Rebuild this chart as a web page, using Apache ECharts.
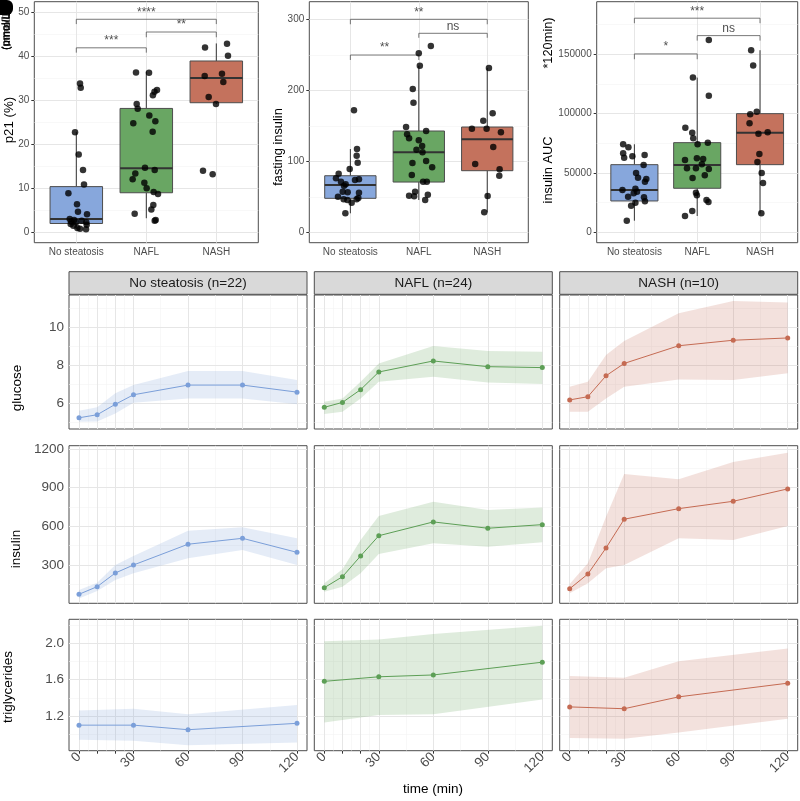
<!DOCTYPE html>
<html>
<head>
<meta charset="utf-8">
<script src="https://cdn.jsdelivr.net/npm/echarts@6/dist/echarts.min.js"></script>
<style>
  html, body { margin: 0; background: #fff; }
  #chart { width: 800px; height: 801px; }
</style>
</head>
<body>
<div id="chart"></div>
<script>
// ---- data ----
const groups = ['No steatosis', 'NAFL', 'NASH'];
const groupCounts = [22, 24, 10];

// box stats: [x, lower whisker, Q1, median, Q3, upper whisker]
const p21Boxes = [[1, 0.7, 2.0, 3.0, 10.4, 22.8], [2, 3.2, 9.0, 14.6, 28.2, 36.6], [3, 29.2, 29.5, 35.1, 39.0, 43.0]];
const fastingBoxes = [[1, 26.8, 47.9, 66.6, 79.7, 117.3], [2, 45.5, 70.8, 112.7, 142.7, 234.7], [3, 28.2, 86.8, 131, 148.3, 231.4]];
const aucBoxes = [[1, 9780, 26390, 35670, 57000, 74200], [2, 13740, 37100, 56750, 75550, 130360], [3, 16020, 57000, 83980, 100000, 153470]];

// jittered points [x, value]
const p21Points = [
  [1.053,33.9],[1.063,32.9],[0.982,22.8],[1.034,17.7],[1.096,14.2],[1.11,10.9],[0.887,8.9],[1.01,6.4],[1.024,4.7],[1.153,4.1],
  [0.906,3.0],[0.93,2.4],[0.968,2.8],[0.996,2.3],[1.077,2.6],[1.143,2.3],[0.92,1.9],[0.958,1.5],[1.015,1.0],[1.053,0.8],[1.139,0.7],[1.148,1.7],
  [1.853,36.4],[2.039,36.3],[1.863,29.2],[1.877,28.1],[2.153,32.4],[2.117,32.0],[2.094,31.2],[2.043,26.6],[1.814,24.8],[2.129,25.3],
  [2.091,22.9],[1.981,14.7],[2.12,14.2],[1.843,13.4],[1.805,12.1],[1.972,11.3],[2.005,10.0],[2.105,9.2],[2.167,8.7],[2.1,6.2],
  [2.072,5.2],[1.834,4.2],[2.134,2.8],[2.12,2.6],
  [2.839,42.1],[3.153,42.9],[3.167,40.2],[2.834,35.6],[3.081,36.1],[3.1,34.2],[2.891,30.8],[2.996,29.2],[2.81,14.0],[2.948,13.2]
];
const fastingPoints = [
  [1.053,171.8],[1.097,117.3],[1.092,107.9],[1.107,98.1],[0.99,89.2],[0.829,82.6],[0.79,76.1],[0.863,71.3],[1.068,73.7],[1.126,74.6],
  [0.931,67.6],[0.907,65.7],[0.888,57.2],[0.961,56.3],[1.126,55.8],[0.819,50.2],[0.902,46.5],[0.956,45.5],[1.019,41.7],[1.092,46.5],
  [1.116,48.5],[0.927,26.8],
  [2.176,262.4],[2.0,252.1],[2.015,234.7],[1.912,201.8],[1.922,182.5],[1.814,148.3],[1.829,138],[1.858,132.4],[2.107,142.7],[2.0,129.6],
  [2.049,121.5],[1.966,116.4],[2.054,112.7],[2.107,100.4],[1.907,97.6],[2.195,91.5],[1.898,80.7],[2.063,71.3],[2.117,71.3],[1.946,57.2],
  [1.858,51.6],[1.932,50.7],[2.132,53.0],[2.093,45.5],
  [3.025,231.4],[2.942,157.2],[3.079,167.6],[2.776,145.9],[2.991,145.9],[3.2,140.8],[3.088,120.1],[2.824,96.2],[3.181,88.7],[3.176,79.7],
  [3.006,51.2],[2.956,28.2]
];
const aucPoints = [
  [0.821,74200],[0.905,71670],[0.821,66610],[0.837,62900],[0.968,64080],[1.163,65180],[1.147,56750],[1.027,50000],[1.058,46040],[1.19,44940],
  [1.168,42670],[0.81,35670],[1.016,36760],[1.042,34230],[0.989,32880],[0.9,30020],[1.153,29510],[1.168,26140],[1.016,24960],[0.948,22430],
  [0.879,9780],
  [2.185,162150],[1.932,130360],[2.185,115180],[1.811,88200],[1.921,83980],[1.937,79260],[2.169,75550],[2.006,74200],[1.806,60960],[1.995,62390],
  [2.095,61800],[2.074,57340],[1.837,53970],[1.98,53970],[2.185,53380],[2.121,48060],[1.926,45790],[1.98,33390],[1.995,31200],[2.148,27240],
  [2.179,25550],[1.921,17960],[1.806,13740],
  [2.859,153470],[2.891,140480],[2.948,101690],[2.844,99500],[2.833,91910],[3.122,84320],[2.975,83140],[2.99,66020],[2.959,59280],[3.027,50000],
  [3.048,41570],[3.021,16020]
];

// significance brackets: [from, to, height, leg end, label]
const p21Brackets = [[1, 3, 48.5, 47.4, '****'], [2, 3, 45.6, 44.4, '**'], [1, 2, 42.0, 40.9, '***']];
const fastingBrackets = [[1, 3, 300, 293, '**'], [2, 3, 280.3, 274, 'ns'], [1, 2, 249.7, 242.7, '**']];
const aucBrackets = [[1, 3, 180450, 176230, '***'], [2, 3, 165770, 161560, 'ns'], [1, 2, 150350, 145870, '*']];

const p21Ticks = [0, 10, 20, 30, 40, 50];
const fastingTicks = [0, 100, 200, 300];
const aucTicks = [0, 50000, 100000, 150000];

// OGTT time courses (per group: No steatosis, NAFL, NASH)
const timesOgtt = [0, 10, 20, 30, 60, 90, 120];
const timesTg = [0, 30, 60, 120];
const timeBreaks = [0, 10, 20, 30, 60, 90, 120];
const timeLabels = [0, 30, 60, 90, 120];

const glucoseMean = [[5.24,5.40,5.95,6.45,6.96,6.96,6.59],[5.79,6.05,6.72,7.65,8.23,7.93,7.88],[6.18,6.35,7.45,8.10,9.03,9.32,9.44]];
const glucoseLo = [[5.03,5.05,5.47,6.03,6.26,6.26,5.95],[5.44,5.56,6.26,7.14,7.40,7.10,7.02],[5.56,5.56,6.26,6.87,7.26,7.23,7.58]];
const glucoseHi = [[5.61,5.79,6.53,6.96,7.70,7.70,7.23],[6.08,6.26,7.14,8.10,9.02,8.75,8.72],[6.87,7.14,8.54,9.28,10.74,11.38,11.30]];

const insulinMean = [[73,132,238,300,461,507,398],[124,209,370,527,634,585,613],[116,230,432,655,737,794,890]];
const insulinLo = [[41,98,183,236,352,416,300],[93,132,236,385,468,442,476],[80,158,274,300,507,494,602]];
const insulinHi = [[106,163,300,370,566,592,507],[158,267,494,680,791,727,745],[152,313,675,1006,965,1099,1171]];

const tgMean = [[1.10,1.10,1.05,1.12],[1.58,1.63,1.65,1.79],[1.30,1.28,1.41,1.56]];
const tgLo = [[0.94,0.93,0.88,0.91],[1.13,1.21,1.22,1.38],[0.96,0.95,1.02,1.17]];
const tgHi = [[1.26,1.28,1.22,1.32],[2.02,2.04,2.10,2.19],[1.64,1.62,1.80,1.94]];

const glucoseTicks = [6, 8, 10];
const insulinTicks = [300, 600, 900, 1200];
const tgTicks = [1.2, 1.6, 2.0];

// ---- styling ----
const FONT = 'Liberation Sans, Arial, sans-serif';
const boxFills = ['#87a7dc', '#69a663', '#c4725d'];
const lineColors = ['#7b9fd9', '#5d9f56', '#c56b53'];
const bandFills = ['rgba(123,159,217,0.2)', 'rgba(93,159,86,0.2)', 'rgba(197,107,83,0.2)'];

const grids = [], xAxes = [], yAxes = [], series = [];

function midpoints(ticks, min, max) {
  const out = [];
  for (let i = 0; i < ticks.length - 1; i++) out.push((ticks[i] + ticks[i + 1]) / 2);
  if (ticks.length > 1) {
    out.push(ticks[0] - (ticks[1] - ticks[0]) / 2);
    out.push(ticks[ticks.length - 1] + (ticks[ticks.length - 1] - ticks[ticks.length - 2]) / 2);
  }
  return out.filter(v => v > min && v < max);
}

function addPanel(rect, xc, yc) {
  const i = grids.length;
  grids.push({ left: rect[0], top: rect[1], width: rect[2], height: rect[3], show: true,
    borderColor: '#4d4d4d', borderWidth: 1, backgroundColor: '#fff', containLabel: false, outerBoundsMode: 'none' });
  const tickStyle = { show: true, length: 3, lineStyle: { color: '#333', width: 1 } };
  xAxes.push({ gridIndex: i, type: 'value', min: xc.min, max: xc.max, splitLine: { show: false }, axisLine: { show: false },
    axisTick: Object.assign({}, tickStyle, { show: !!xc.show, customValues: xc.ticks }),
    axisLabel: { show: !!xc.show, customValues: xc.labels, formatter: xc.fmt, rotate: xc.rotate || 0, margin: xc.margin || 5,
      color: '#4d4d4d', fontSize: xc.fontSize, fontFamily: FONT } });
  yAxes.push({ gridIndex: i, type: 'value', min: yc.min, max: yc.max, splitLine: { show: false }, axisLine: { show: false },
    axisTick: Object.assign({}, tickStyle, { show: !!yc.show, customValues: yc.ticks }),
    axisLabel: { show: !!yc.show, customValues: yc.ticks, formatter: yc.fmt, margin: 5,
      color: '#4d4d4d', fontSize: yc.fontSize, fontFamily: FONT } });
  // panel grid lines, kept underneath everything else
  const major = { color: '#e6e6e6', width: 1, type: 'solid' };
  const minor = { color: '#f3f3f3', width: 0.6, type: 'solid' };
  const md = [];
  (xc.minor || []).forEach(v => md.push({ xAxis: v, lineStyle: minor }));
  midpoints(yc.ticks, yc.min, yc.max).forEach(v => md.push({ yAxis: v, lineStyle: minor }));
  xc.ticks.forEach(v => md.push({ xAxis: v, lineStyle: major }));
  yc.ticks.forEach(v => md.push({ yAxis: v, lineStyle: major }));
  series.push({ type: 'line', xAxisIndex: i, yAxisIndex: i, data: [], silent: true, z: 1,
    markLine: { z: 1, zlevel: 0, silent: true, symbol: ['none', 'none'], label: { show: false }, animation: false, data: md } });
  return i;
}

// ---- top row: box plots ----
const plain = v => String(v);
const boxPanels = [
  { rect: [34.3, 1.7, 224, 241], min: -2.37, max: 52.5, ticks: p21Ticks, boxes: p21Boxes, points: p21Points, brackets: p21Brackets },
  { rect: [309.3, 1.7, 219, 241], min: -14.6, max: 324.8, ticks: fastingTicks, boxes: fastingBoxes, points: fastingPoints, brackets: fastingBrackets },
  { rect: [596.7, 1.7, 201, 241], min: -8770, max: 194350, ticks: aucTicks, boxes: aucBoxes, points: aucPoints, brackets: aucBrackets }
];

boxPanels.forEach(p => {
  const gi = addPanel(p.rect,
    { min: 0.4, max: 3.6, show: true, ticks: [1, 2, 3], labels: [1, 2, 3], fmt: v => groups[Math.round(v) - 1], fontSize: 10, margin: 5 },
    { min: p.min, max: p.max, show: true, ticks: p.ticks, fmt: plain, fontSize: 10 });
  series.push({
    type: 'custom', xAxisIndex: gi, yAxisIndex: gi, z: 3, silent: true,
    encode: { x: 0, y: [1, 2, 3, 4, 5] },
    data: p.boxes,
    renderItem: (params, api) => {
      const x = api.value(0);
      const c = v => api.coord([x, api.value(v)]);
      const lo = c(1), q1 = c(2), med = c(3), q3 = c(4), hi = c(5);
      const half = api.size([0.375, 0])[0];
      const ln = { stroke: '#333', lineWidth: 1 };
      return { type: 'group', children: [
        { type: 'line', shape: { x1: lo[0], y1: lo[1], x2: q1[0], y2: q1[1] }, style: ln },
        { type: 'line', shape: { x1: q3[0], y1: q3[1], x2: hi[0], y2: hi[1] }, style: ln },
        { type: 'rect', shape: { x: q1[0] - half, y: q3[1], width: half * 2, height: q1[1] - q3[1] },
          style: { fill: boxFills[params.dataIndex], stroke: '#4d4d4d', lineWidth: 1 } },
        { type: 'line', shape: { x1: med[0] - half, y1: med[1], x2: med[0] + half, y2: med[1] },
          style: { stroke: '#333', lineWidth: 2 } }
      ] };
    }
  });
  series.push({ type: 'scatter', xAxisIndex: gi, yAxisIndex: gi, z: 4, silent: true, symbolSize: 6.5,
    itemStyle: { color: '#000' }, data: p.points });
  p.brackets.forEach(b => {
    series.push({ type: 'line', xAxisIndex: gi, yAxisIndex: gi, z: 4, silent: true, showSymbol: false,
      lineStyle: { color: '#555', width: 0.8 },
      data: [[b[0], b[3]], [b[0], b[2]], [b[1], b[2]], [b[1], b[3]]] });
    series.push({ type: 'scatter', xAxisIndex: gi, yAxisIndex: gi, z: 4, silent: true, symbolSize: 0,
      data: [{ value: [(b[0] + b[1]) / 2, b[2]], name: b[4] }],
      label: { show: true, position: 'top', distance: 1, formatter: '{b}', color: '#222', fontSize: 12, fontFamily: FONT } });
  });
});

// ---- facet grid: OGTT curves ----
const colLeft = [69, 314.3, 559.7];
const colWidth = 238;
const facetRows = [
  { top: 295, h: 134, min: 4.65, max: 11.7, ticks: glucoseTicks, times: timesOgtt, mean: glucoseMean, lo: glucoseLo, hi: glucoseHi, fmt: plain },
  { top: 445.7, h: 157.6, min: 3, max: 1225, ticks: insulinTicks, times: timesOgtt, mean: insulinMean, lo: insulinLo, hi: insulinHi, fmt: plain },
  { top: 619.3, h: 131.4, min: 0.82, max: 2.26, ticks: tgTicks, times: timesTg, mean: tgMean, lo: tgLo, hi: tgHi, fmt: v => v.toFixed(1) }
];
const xMinor = midpoints(timeBreaks, -5.5, 125.5).filter(v => v > 0 && v < 120);

facetRows.forEach((row, r) => {
  groups.forEach((g, c) => {
    const gi = addPanel([colLeft[c], row.top, colWidth, row.h],
      { min: -5.5, max: 125.5, show: r === facetRows.length - 1, ticks: timeBreaks, labels: timeLabels, minor: xMinor,
        fmt: plain, rotate: 45, fontSize: 13.5, margin: 4 },
      { min: row.min, max: row.max, show: c === 0, ticks: row.ticks, fmt: row.fmt, fontSize: 13.5 });
    const times = row.times, lo = row.lo[c], hi = row.hi[c];
    series.push({
      type: 'custom', xAxisIndex: gi, yAxisIndex: gi, z: 2, silent: true,
      encode: { x: 0, y: [1, 2] },
      data: times.map((t, i) => [t, lo[i], hi[i]]),
      renderItem: (params, api) => {
        if (params.dataIndex !== 0) return null;
        const pts = times.map((t, i) => api.coord([t, hi[i]]));
        for (let i = times.length - 1; i >= 0; i--) pts.push(api.coord([times[i], lo[i]]));
        return { type: 'polygon', shape: { points: pts }, style: { fill: bandFills[c] } };
      }
    });
    series.push({ type: 'line', xAxisIndex: gi, yAxisIndex: gi, z: 3, silent: true,
      symbol: 'circle', symbolSize: 5, showSymbol: true,
      lineStyle: { color: lineColors[c], width: 1 },
      itemStyle: { color: lineColors[c], borderColor: lineColors[c], borderWidth: 0 },
      emphasis: { disabled: true },
      data: times.map((t, i) => [t, row.mean[c][i]]) });
  });
});

// ---- text & strips ----
const graphic = [];
const rotText = (x, y, text, size) => graphic.push({ type: 'text', x, y, rotation: Math.PI / 2,
  style: { text, fill: '#000', font: size + 'px ' + FONT, align: 'center', verticalAlign: 'middle' } });
rotText(9, 120, 'p21 (%)', 13.3);
rotText(278, 147, 'fasting insulin', 12.8);
rotText(548, 170, 'insulin AUC', 12.8);
rotText(548, 43, '*120min)', 12.8);
rotText(17, 388, 'glucose', 13.5);
rotText(16, 549, 'insulin', 13.5);
rotText(8, 687, 'triglycerides', 13.5);
// overlapping clipped unit labels in the top-left corner
graphic.push({ type: 'rect', shape: { x: 0, y: 0, width: 13, height: 15, r: [0, 6, 6, 0] }, style: { fill: '#000' } });
['(pmol/L', '(mmol/L', '(umol/L'].forEach((t, k) => graphic.push({ type: 'text', x: 6 + k * 0.6, y: 50, rotation: Math.PI / 2,
  style: { text: t, fill: '#000', font: '11px ' + FONT, align: 'left', verticalAlign: 'middle' } }));
graphic.push({ type: 'text', x: 433, y: 789,
  style: { text: 'time (min)', fill: '#000', font: '13.5px ' + FONT, align: 'center', verticalAlign: 'middle' } });
groups.forEach((g, c) => {
  graphic.push({ type: 'rect', shape: { x: colLeft[c], y: 271.7, width: colWidth, height: 22.6 },
    style: { fill: '#d9d9d9', stroke: '#4d4d4d', lineWidth: 1 } });
  graphic.push({ type: 'text', x: colLeft[c] + colWidth / 2, y: 283,
    style: { text: g + ' (n=' + groupCounts[c] + ')', fill: '#1a1a1a', font: '13.5px ' + FONT, align: 'center', verticalAlign: 'middle' } });
});

const chart = echarts.init(document.getElementById('chart'), null, { renderer: 'canvas' });
chart.setOption({
  animation: false,
  backgroundColor: '#fff',
  grid: grids,
  xAxis: xAxes,
  yAxis: yAxes,
  series,
  graphic
});
</script>
</body>
</html>
